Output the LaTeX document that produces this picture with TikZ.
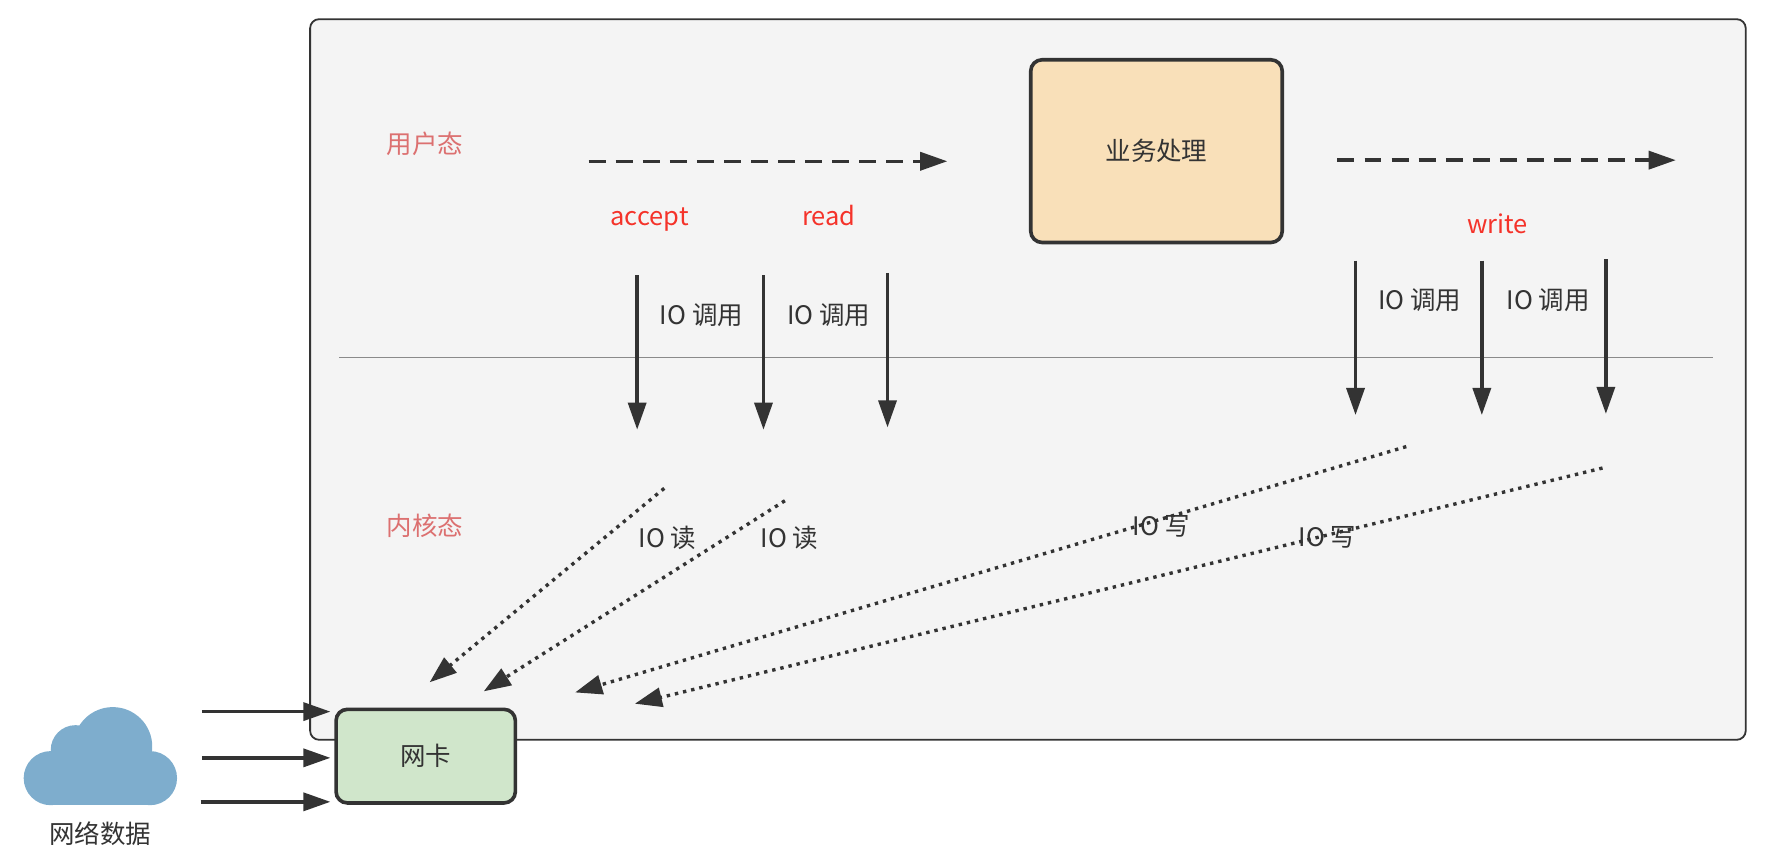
\documentclass[tikz,border=0pt]{standalone}
\usepackage{fontspec}
\setmainfont{Noto Sans CJK SC}
\usetikzlibrary{arrows.meta,positioning}

\definecolor{panelfill}{HTML}{F4F4F4}
\definecolor{inkgray}{HTML}{333333}
\definecolor{rulegray}{HTML}{8A8A8A}
\definecolor{bizfill}{HTML}{F9E0B9}
\definecolor{nicfill}{HTML}{D0E6CB}
\definecolor{cloudblue}{HTML}{7EADCD}
\definecolor{statered}{HTML}{DC7070}
\definecolor{callred}{HTML}{F5332A}

\begin{document}
\begin{tikzpicture}[x=0.5pt, y=-0.5pt,
    labelfont/.style={font=\fontsize{11.3pt}{13pt}\selectfont, text=inkgray},
    txt/.style={labelfont, inner sep=0pt, text height=0.8em, text depth=0.2em, yshift=-1.4pt},
    statetxt/.style={txt, text=statered},
    calltxt/.style={txt, text=callred},
    box/.style={draw=inkgray, line width=1.6pt, rounded corners=5pt, labelfont},
    callarrow/.style={draw=inkgray, line width=1.5pt, -{Triangle[length=12pt,width=8pt]}},
    flowarrow/.style={callarrow, dash pattern=on 7.5pt off 4.5pt},
    ioarrow/.style={draw=inkgray, line width=1.5pt, dash pattern=on 1.5pt off 2.2pt, -{Triangle[length=12pt,width=8.5pt]}}]
    \useasboundingbox (0,0) rectangle (1566,762.6);

    % user space / kernel space panel
    \node (panel) [draw=inkgray, fill=panelfill, line width=0.8pt, rounded corners=4pt,
        minimum width=636.5pt, minimum height=319.5pt] at (911.5,336.5) {};
    \coordinate (ruleL) at (301,317);
    \coordinate (ruleR) at (1519,317);
    \draw[rulegray, line width=0.75pt] (ruleL) -- (ruleR);

    \node (user) [statetxt] at (377,127) {用户态};
    \node (kernel) [statetxt] at (377,466) {内核态};

    \node (biz) [box, fill=bizfill, minimum width=111.5pt, minimum height=81pt] at (1025.5,134) {业务处理};

    % flow arrows
    \coordinate (f1) at (522,143);
    \coordinate (f1e) at (840,143);
    \coordinate (f2) at (1186,142);
    \coordinate (f2e) at (1486,142);
    \path (f1) edge[flowarrow] (f1e)
          (f2) edge[flowarrow] (f2e);

    \node (accept) [calltxt] at (576,191) {accept};
    \node (read) [calltxt] at (735,191) {read};
    \node (write) [calltxt] at (1328,198) {write};

    % IO calls
    \coordinate (c1) at (565,244);
    \coordinate (c1e) at (565,381);
    \coordinate (c2) at (677,244);
    \coordinate (c2e) at (677,381);
    \coordinate (c3) at (787,242);
    \coordinate (c3e) at (787,379);
    \coordinate (c4) at (1202,231);
    \coordinate (c4e) at (1202,368);
    \coordinate (c5) at (1314,231);
    \coordinate (c5e) at (1314,368);
    \coordinate (c6) at (1424,230);
    \coordinate (c6e) at (1424,367);
    \path (c1) edge[callarrow] (c1e)
          (c2) edge[callarrow] (c2e)
          (c3) edge[callarrow] (c3e)
          (c4) edge[callarrow] (c4e)
          (c5) edge[callarrow] (c5e)
          (c6) edge[callarrow] (c6e);

    \node (call1) [txt] at (622,279) {IO 调用};
    \node (call2) [txt] at (735,279) {IO 调用};
    \node (call3) [txt] at (1259,266) {IO 调用};
    \node (call4) [txt] at (1373,266) {IO 调用};

    % IO read / write
    \coordinate (r1) at (589,433);
    \coordinate (r1e) at (381,605);
    \coordinate (r2) at (696,444);
    \coordinate (r2e) at (429,613);
    \coordinate (w1) at (1247,396);
    \coordinate (w1e) at (510,614);
    \coordinate (w2) at (1421,415);
    \coordinate (w2e) at (563,624);
    \path (r1) edge[ioarrow] (r1e)
          (r2) edge[ioarrow] (r2e)
          (w1) edge[ioarrow] (w1e)
          (w2) edge[ioarrow] (w2e);

    \node (rd1) [txt] at (592,477) {IO 读};
    \node (rd2) [txt] at (700,477) {IO 读};
    \node (wr1) [txt] at (1030,466) {IO 写};
    \node (wr2) [txt] at (1177,476) {IO 写};

    \node (nic) [box, fill=nicfill, minimum width=79.5pt, minimum height=41.5pt] at (377.5,670.5) {网卡};

    % network data
    \node (cloud) [minimum width=68pt, minimum height=43pt, inner sep=0pt] at (89,671) {};
    \fill[cloudblue] (45,690) circle[radius=24];
    \fill[cloudblue] (133,690) circle[radius=24];
    \fill[cloudblue] (100,662) circle[radius=35];
    \fill[cloudblue] (67,665) circle[radius=22];
    \fill[cloudblue] (45,680) rectangle (133,714);
    \node (netdata) [txt, below=7pt of cloud] {网络数据};

    \coordinate (n1) at (179,631);
    \coordinate (n1e) at (293,631);
    \coordinate (n2) at (179,672);
    \coordinate (n2e) at (293,672);
    \coordinate (n3) at (178,711);
    \coordinate (n3e) at (293,711);
    \path (n1) edge[callarrow] (n1e)
          (n2) edge[callarrow] (n2e)
          (n3) edge[callarrow] (n3e);
\end{tikzpicture}
\end{document}
